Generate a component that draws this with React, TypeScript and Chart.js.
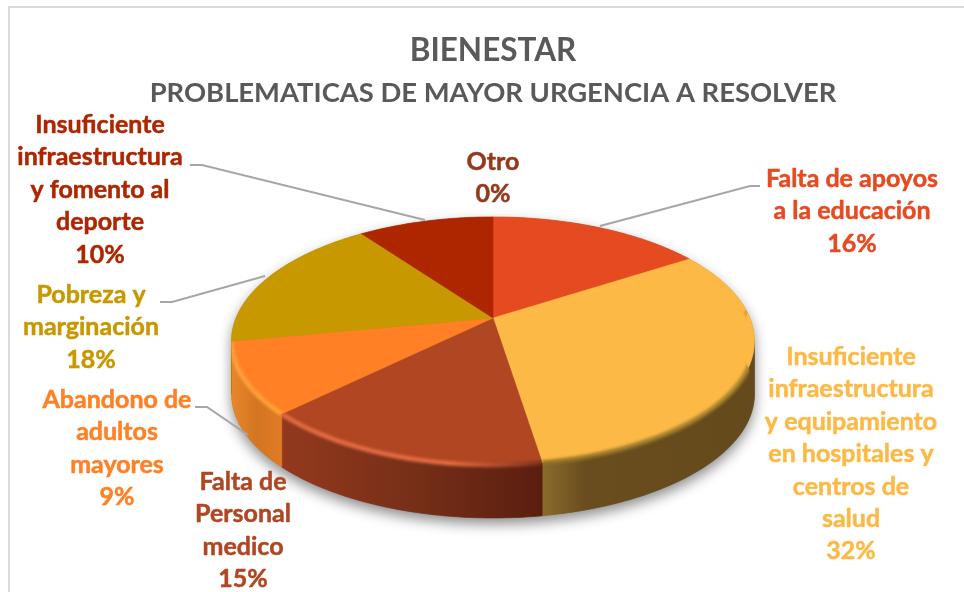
import React, { useEffect, useRef } from "react";
import { Chart, registerables } from "chart.js";

Chart.register(...registerables);

const categories = [
  "Falta de apoyos a la educación",
  "Insuficiente infraestructura y equipamiento en hospitales y centros de salud",
  "Falta de Personal medico",
  "Abandono de adultos mayores",
  "Pobreza y marginación",
  "Insuficiente infraestructura y fomento al deporte",
  "Otro",
];
const values = [15.9, 31.6, 15.2, 9.3, 18, 10, 0];
const sliceColors = ["#E64A21", "#FDB945", "#B04622", "#FF8025", "#C89800", "#AE2600", "#943A1C"];
const labelLines = [
  ["Falta de apoyos", "a la educación"],
  ["Insuficiente", "infraestructura", "y equipamiento", "en hospitales y", "centros de", "salud"],
  ["Falta de", "Personal", "medico"],
  ["Abandono de", "adultos", "mayores"],
  ["Pobreza y", "marginación"],
  ["Insuficiente", "infraestructura", "y fomento al", "deporte"],
  ["Otro"],
];
const titleText = "BIENESTAR";
const subtitleText = "PROBLEMATICAS DE MAYOR URGENCIA A RESOLVER";

// layout of the labels: [centre x, y of first line]
const labelAnchors = [[852, 179], [851, 357], [243, 482], [117, 400], [91, 295], [100, 125], [493, 162]];
const leaderLines = [
  [[600, 226], [750, 186], [760, 186]],
  [[190, 165], [202, 165], [425, 220]],
  [[160, 302], [172, 302], [265, 276]],
  [[195, 407], [207, 407], [248, 435]],
];
const wallStops: Record<number, [number, string][]> = {
  1: [[0, "#8A6C2E"], [0.2, "#6A4D1E"], [1, "#644A1C"]],
  2: [[0, "#93391D"], [0.5, "#772F18"], [1, "#5A1E0F"]],
  3: [[0, "#E8872A"], [0.5, "#D47522"], [1, "#E07B25"]],
  4: [[0, "#A88000"], [1, "#A88000"]],
};
const rimStops: Record<number, [number, string][]> = {
  1: [[0, "#8F7028"], [1, "#A8842F"]],
  2: [[0, "#E66C44"], [0.65, "#E66C44"], [1, "#7A3018"]],
  3: [[0, "#FFA23C"], [1, "#FFA23C"]],
  4: [[0, "#E0B010"], [1, "#E0B010"]],
};

const HUB_X = 493, HUB_Y = 318, RX = 257, RY = 119.8, PERSP = 0.185, DEPTH = 53;

const project = (a: number) => {
  const u = Math.cos(a), v = Math.sin(a), w = 1 - PERSP * v;
  return [HUB_X + (RX * u) / w, HUB_Y + (RY * v) / w];
};
const VIS_A = Math.asin(PERSP);
const VIS_B = Math.PI - VIS_A;

function samples(a0: number, a1: number) {
  const n = Math.max(2, Math.ceil((a1 - a0) / 0.015));
  const out: number[] = [];
  for (let i = 0; i <= n; i++) out.push(a0 + ((a1 - a0) * i) / n);
  return out;
}

const pie3d = {
  id: "pie3d",
  beforeDraw(chart: any) {
    const c = chart.ctx;
    c.save();
    c.fillStyle = "#fff";
    c.fillRect(0, 0, chart.width, chart.height);
    c.strokeStyle = "#D9D9D9";
    c.lineWidth = 2;
    c.strokeRect(9, 7, 2000, 2000);
    c.restore();
  },
  beforeDatasetsDraw(chart: any) {
    const c = chart.ctx;
    const arcs = chart.getDatasetMeta(0).data;
    const colors = chart.data.datasets[0].backgroundColor;
    const vals = chart.data.datasets[0].data;
    c.save();

    // soft shadow under the disc
    c.save();
    c.shadowColor = "rgba(0,0,0,0.45)";
    c.shadowBlur = 13;
    c.shadowOffsetY = 6;
    c.shadowOffsetX = 0;
    c.fillStyle = "#777";
    c.beginPath();
    samples(VIS_A, VIS_B).forEach((a, i) => {
      const [x, y] = project(a);
      if (i) c.lineTo(x, y + DEPTH);
      else c.moveTo(x, y + DEPTH);
    });
    samples(VIS_B, VIS_A + 2 * Math.PI).forEach((a) => {
      const [x, y] = project(a);
      c.lineTo(x, y);
    });
    c.closePath();
    c.fill();
    c.restore();

    // side walls
    arcs.forEach((el: any, i: number) => {
      if (!vals[i]) return;
      const s = el.startAngle, e = el.endAngle;
      const a0 = Math.max(s, VIS_A), a1 = Math.min(e, VIS_B);
      if (a1 <= a0) return;
      const pts = samples(a0, a1).map(project);
      const xs = pts.map((p) => p[0]);
      const g = c.createLinearGradient(Math.min(...xs), 0, Math.max(...xs), 0);
      (wallStops[i] || [[0, colors[i]], [1, colors[i]]]).forEach(([o, col]: any) => g.addColorStop(o, col));
      c.fillStyle = g;
      c.strokeStyle = g;
      c.lineWidth = 0.6;
      c.beginPath();
      pts.forEach(([x, y], k) => (k ? c.lineTo(x, y) : c.moveTo(x, y)));
      [...pts].reverse().forEach(([x, y]) => c.lineTo(x, y + DEPTH));
      c.closePath();
      c.fill();
      c.stroke();
    });

    // top faces
    arcs.forEach((el: any, i: number) => {
      if (!vals[i]) return;
      c.fillStyle = colors[i];
      c.strokeStyle = colors[i];
      c.lineWidth = 0.6;
      c.beginPath();
      c.moveTo(HUB_X, HUB_Y);
      samples(el.startAngle, el.endAngle).forEach((a) => {
        const [x, y] = project(a);
        c.lineTo(x, y);
      });
      c.closePath();
      c.fill();
      c.stroke();
    });

    // soft bevel on the front rim
    arcs.forEach((el: any, i: number) => {
      if (!vals[i] || !rimStops[i]) return;
      const a0 = Math.max(el.startAngle, VIS_A - 0.25), a1 = Math.min(el.endAngle, VIS_B);
      if (a1 <= a0) return;
      const arc = samples(a0, a1).map(project);
      const xs = arc.map((p) => p[0]);
      c.save();
      // clip to this slice's face plus its wall, so the bevel reaches the seams
      const start = project(a0), end = project(a1);
      c.beginPath();
      c.moveTo(HUB_X, HUB_Y);
      c.lineTo(start[0], start[1]);
      arc.forEach(([x, y]) => c.lineTo(x, y + DEPTH));
      c.lineTo(end[0], end[1]);
      c.closePath();
      c.clip();
      const g = c.createLinearGradient(Math.min(...xs), 0, Math.max(...xs), 0);
      rimStops[i].forEach(([o, col]) => g.addColorStop(o, col));
      c.filter = "blur(1.5px)";
      c.strokeStyle = g;
      c.lineWidth = 4.5;
      c.beginPath();
      arc.forEach(([x, y], k) => (k ? c.lineTo(x, y) : c.moveTo(x, y)));
      c.stroke();
      c.restore();
    });

    // leader lines
    c.strokeStyle = "#A6A6A6";
    c.lineWidth = 2;
    leaderLines.forEach((line) => {
      c.beginPath();
      line.forEach(([x, y], k) => (k ? c.lineTo(x, y) : c.moveTo(x, y)));
      c.stroke();
    });

    // data labels
    const total = vals.reduce((t: number, v: number) => t + v, 0);
    c.font = "bold 25px Lato";
    c.textAlign = "center";
    c.textBaseline = "middle";
    c.lineWidth = 0.5;
    c.lineJoin = "round";
    labelLines.forEach((lines, i) => {
      const [x, y] = labelAnchors[i];
      c.fillStyle = colors[i];
      c.strokeStyle = colors[i];
      [...lines, `${Math.round((vals[i] / total) * 100)}%`].forEach((t, k) => {
        c.fillText(t, x, y + k * 32.4);
        c.strokeText(t, x, y + k * 32.4);
      });
    });
    c.restore();
    return false;
  },
};

export default function App() {
  const ref = useRef<HTMLCanvasElement>(null);
  useEffect(() => {
    const chart = new Chart(ref.current!, {
      type: "pie",
      data: {
        labels: categories,
        datasets: [{ data: values, backgroundColor: sliceColors, borderWidth: 0 }],
      },
      options: {
        responsive: false,
        animation: false,
        layout: { padding: { left: 22 } },
        plugins: {
          legend: { display: false },
          tooltip: { enabled: false },
          title: {
            display: true,
            text: titleText,
            color: "#595959",
            font: { family: "Lato", size: 31.5, weight: "bold", lineHeight: 1.2 },
            padding: { top: 32, bottom: 0 },
          },
          subtitle: {
            display: true,
            text: subtitleText,
            color: "#595959",
            font: { family: "Lato", size: 27.4, weight: "bold", lineHeight: 1.2 },
            padding: { top: 7, bottom: 0 },
          },
        },
      },
      plugins: [pie3d],
    } as any);
    return () => chart.destroy();
  }, []);
  return (
    <canvas
      ref={ref}
      width={964}
      height={592}
      style={{ position: "absolute", left: 0, top: 0, display: "block" }}
    />
  );
}
